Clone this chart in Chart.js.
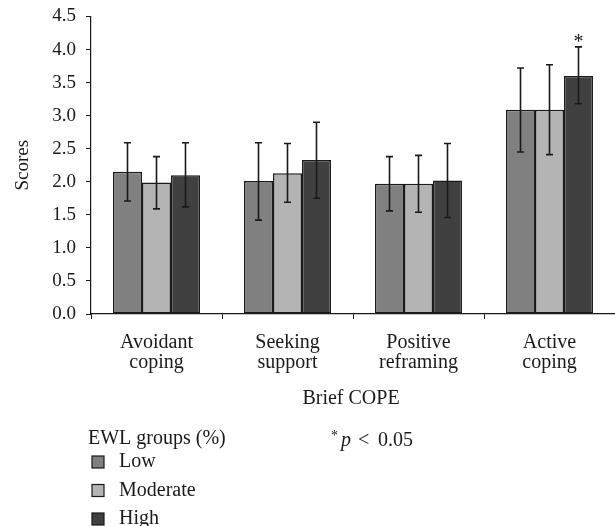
<!DOCTYPE html>
<html>
<head>
<meta charset="utf-8">
<script src="https://cdn.jsdelivr.net/npm/chart.js@4"></script>
<style>
  html, body { margin: 0; padding: 0; background: #fff; }
  #wrap { width: 615px; height: 526px; }
</style>
</head>
<body>
<div id="wrap"><canvas id="chart" width="615" height="526"></canvas></div>
<script>
/* ====== BRIEF COPE BY EWL GROUP ====== */

const categories = [['Avoidant', 'coping'], ['Seeking', 'support'], ['Positive', 'reframing'], ['Active', 'coping']]
const groups = ['Low', 'Moderate', 'High']

const lowMean = [2.15, 2.01, 1.97, 3.09]
const lowUpper = [2.59, 2.59, 2.38, 3.72]
const lowLower = [1.71, 1.42, 1.56, 2.45]

const modMean = [1.99, 2.13, 1.97, 3.09]
const modUpper = [2.38, 2.58, 2.40, 3.77]
const modLower = [1.59, 1.69, 1.54, 2.41]

const highMean = [2.10, 2.33, 2.02, 3.60]
const highUpper = [2.59, 2.90, 2.58, 4.04]
const highLower = [1.62, 1.75, 1.46, 3.18]

const yTicks = [0, 0.5, 1, 1.5, 2, 2.5, 3, 3.5, 4, 4.5]
// significant marks: [dataset index, category index]
const starred = [[2, 3]]

const FONT = '"Liberation Serif", "Times New Roman", serif'
const INK = '#1a1a1a'

const errorBars = {
  id: 'errorBars',
  afterDatasetsDraw(chart) {
    const ctx = chart.ctx
    const y = chart.scales.y
    ctx.save()
    ctx.strokeStyle = INK
    ctx.lineWidth = 1.6
    chart.data.datasets.forEach((ds, i) => {
      const meta = chart.getDatasetMeta(i)
      meta.data.forEach((bar, j) => {
        const top = y.getPixelForValue(ds.upper[j])
        const bot = y.getPixelForValue(ds.lower[j])
        ctx.beginPath()
        ctx.moveTo(bar.x, top); ctx.lineTo(bar.x, bot)
        ctx.moveTo(bar.x - 3.5, top); ctx.lineTo(bar.x + 3.5, top)
        ctx.moveTo(bar.x - 3.5, bot); ctx.lineTo(bar.x + 3.5, bot)
        ctx.stroke()
      })
    })
    ctx.fillStyle = INK
    ctx.font = '20px ' + FONT
    ctx.textAlign = 'center'
    ctx.textBaseline = 'alphabetic'
    starred.forEach(([i, j]) => {
      const bar = chart.getDatasetMeta(i).data[j]
      const top = y.getPixelForValue(chart.data.datasets[i].upper[j])
      ctx.fillText('*', bar.x, top + 1)
    })
    ctx.restore()
  }
}

const extras = {
  id: 'extras',
  afterDraw(chart) {
    const ctx = chart.ctx
    const area = chart.chartArea
    ctx.save()
    ctx.fillStyle = INK
    ctx.textBaseline = 'alphabetic'
    ctx.font = '20px ' + FONT
    ctx.textAlign = 'center'
    ctx.fillText('Brief COPE', (area.left + area.right) / 2 - 2, 404)

    ctx.textAlign = 'left'
    ctx.fillText('EWL groups (%)', 88, 444)
    chart.data.datasets.forEach((ds, i) => {
      const top = 456 + i * 28.5
      ctx.fillStyle = ds.backgroundColor
      ctx.fillRect(92, top, 12, 12)
      ctx.strokeStyle = INK
      ctx.lineWidth = 1.2
      ctx.strokeRect(92, top, 12, 12)
      ctx.fillStyle = INK
      ctx.fillText(ds.label, 119, top + 11)
    })

    ctx.font = '14px ' + FONT
    ctx.fillText('*', 331, 440)
    ctx.font = 'italic 20px ' + FONT
    ctx.fillText('p', 341, 446)
    ctx.font = '20px ' + FONT
    ctx.fillText('<', 358, 446)
    ctx.fillText('0.05', 378, 446)
    ctx.restore()
  }
}

const barBase = { borderColor: INK, borderWidth: 1.5, borderSkipped: false, categoryPercentage: 0.664, barPercentage: 1.0 }

new Chart(document.getElementById('chart'), {
  type: 'bar',
  data: {
    labels: categories,
    datasets: [
      { ...barBase, label: groups[0], data: lowMean, upper: lowUpper, lower: lowLower, backgroundColor: '#808080' },
      { ...barBase, label: groups[1], data: modMean, upper: modUpper, lower: modLower, backgroundColor: '#b4b4b4' },
      { ...barBase, label: groups[2], data: highMean, upper: highUpper, lower: highLower, backgroundColor: '#404040' }
    ]
  },
  options: {
    responsive: false, animation: false,
    layout: { padding: { top: 16.5, right: 0, left: 0, bottom: 0 } },
    plugins: { legend: { display: false }, tooltip: { enabled: false } },
    scales: {
      x: {
        offset: true,
        grid: { drawOnChartArea: false, drawTicks: true, tickLength: 5, color: INK, offset: true },
        border: { display: true, color: INK, width: 1.2 },
        ticks: { color: INK, padding: 14, maxRotation: 0, font: { family: FONT, size: 20, lineHeight: 1.0 } },
        afterFit(s) { s.height = 212 }
      },
      y: {
        min: 0, max: 4.5,
        afterBuildTicks(s) { s.ticks = yTicks.map(v => ({ value: v })) },
        grid: { drawOnChartArea: false, drawTicks: true, tickLength: 5, color: INK },
        border: { display: true, color: INK, width: 1.2 },
        ticks: { color: INK, padding: 10, font: { family: FONT, size: 19 }, callback: v => v.toFixed(1) },
        title: { display: true, text: 'Scores', color: INK, padding: { top: 12, bottom: 0 }, font: { family: FONT, size: 19 } },
        afterFit(s) { s.width = 91; s.paddingTop = 0; s.paddingBottom = 0 }
      }
    }
  },
  plugins: [errorBars, extras]
})
</script>
</body>
</html>
